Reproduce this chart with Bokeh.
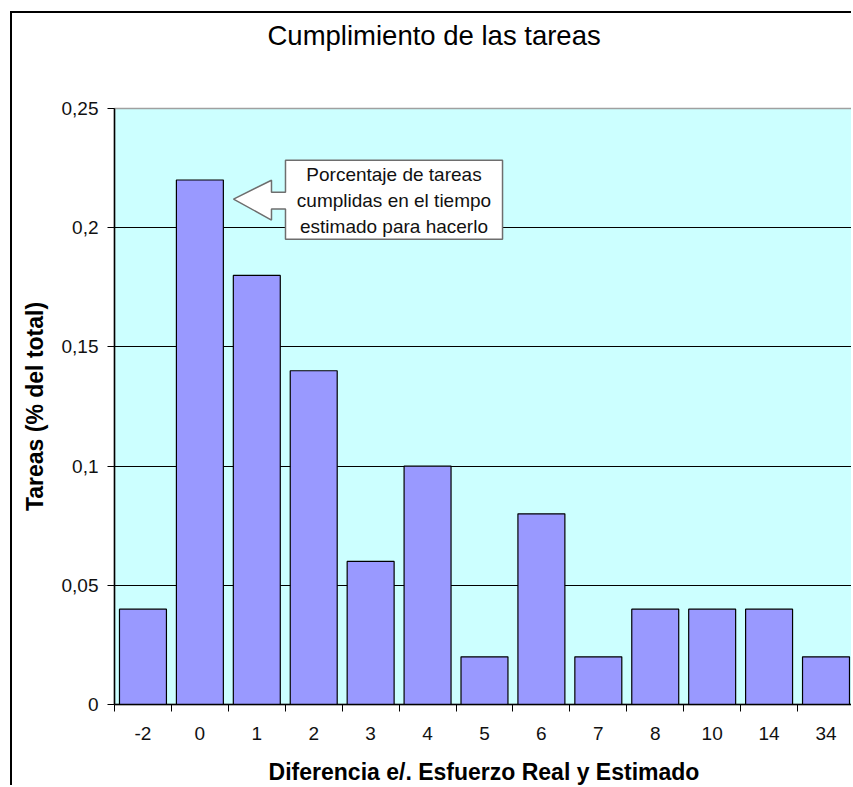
from bokeh.plotting import figure
from bokeh.models import Range1d, FixedTicker, Title
from bokeh.core.properties import value
from bokeh.embed import file_html
from bokeh.resources import INLINE

# ---- data ----
CATEGORIES = ["-2", "0", "1", "2", "3", "4", "5", "6", "7", "8", "10", "14", "34"]
SHARE = [0.04, 0.22, 0.18, 0.14, 0.06, 0.10, 0.02, 0.08, 0.02, 0.04, 0.04, 0.04, 0.02]
Y_TICKS = [0, 0.05, 0.1, 0.15, 0.2, 0.25]
Y_TICK_LABELS = ["0", "0,05", "0,1", "0,15", "0,2", "0,25"]
TITLE = "Cumplimiento de las tareas"
X_LABEL = "Diferencia e/. Esfuerzo Real y Estimado"
Y_LABEL = "Tareas (% del total)"
CALLOUT_TEXT = ["Porcentaje de tareas", "cumplidas en el tiempo", "estimado para hacerlo"]

FONT = "Liberation Sans"

pos = list(range(len(CATEGORIES)))

p = figure(width=841, height=774, output_backend="svg", toolbar_location=None,
           title=None,
           x_range=Range1d(-0.5, 12.483), y_range=Range1d(0, 0.25),
           min_border_left=102, min_border_top=95, min_border_bottom=81,
           min_border_right=0,
           background_fill_color="#CCFFFF", border_fill_color="#FFFFFF",
           outline_line_color="#A0A0A0", outline_line_width=1.5)

# chart-area border (top and left edges visible in the reference)
p.styles = {"border-left": "2px solid #000", "border-top": "2px solid #000",
            "margin-left": "10px", "margin-top": "11px"}

# title: an invisible spacer next to the frame pushes the title upward
spacer = Title(text=" ", text_font_size="10px", standoff=45)
p.add_layout(spacer, "above")
main_title = Title(text=TITLE, text_font=FONT, text_font_size="27.5px",
                   text_font_style="normal", text_color="#000000",
                   align="left", offset=153, standoff=0)
p.add_layout(main_title, "above")

# x axis: labels at category centers, tick marks at category boundaries
xa = p.xaxis[0]
xa.ticker = FixedTicker(ticks=pos, minor_ticks=[i - 0.5 for i in range(len(CATEGORIES) + 1)])
xa.major_label_overrides = {i: c for i, c in zip(pos, CATEGORIES)}
xa.major_tick_line_color = None
xa.major_tick_out = 7
xa.major_tick_in = 0
xa.minor_tick_line_color = "#000000"
xa.minor_tick_out = 7
xa.minor_tick_in = 0
xa.axis_line_color = "#000000"
xa.axis_line_width = 1.5
xa.major_label_standoff = 15
xa.major_label_text_font = FONT
xa.major_label_text_font_size = "19px"
xa.major_label_text_color = "#111111"
xa.axis_label = X_LABEL
xa.axis_label_text_font = FONT
xa.axis_label_text_font_size = "23px"
xa.axis_label_text_font_style = "bold"
xa.axis_label_text_color = "#000000"
xa.axis_label_standoff = 16

# y axis
ya = p.yaxis[0]
ya.ticker = FixedTicker(ticks=Y_TICKS, minor_ticks=[])
ya.major_label_overrides = {t: l for t, l in zip(Y_TICKS, Y_TICK_LABELS)}
ya.major_tick_line_color = "#000000"
ya.major_tick_out = 7
ya.major_tick_in = 0
ya.axis_line_color = "#000000"
ya.axis_line_width = 1.5
ya.major_label_standoff = 9
ya.major_label_text_font = FONT
ya.major_label_text_font_size = "19px"
ya.major_label_text_color = "#111111"
ya.axis_label = Y_LABEL
ya.axis_label_text_font = FONT
ya.axis_label_text_font_size = "23px"
ya.axis_label_text_font_style = "bold"
ya.axis_label_text_color = "#000000"
ya.axis_label_standoff = 11

# grid
p.xgrid.visible = False
p.ygrid.ticker = FixedTicker(ticks=Y_TICKS[1:-1], minor_ticks=[])
p.ygrid.grid_line_color = "#000000"
p.ygrid.grid_line_width = 1.2

# bars
p.vbar(x=pos, top=SHARE, bottom=0, width=0.825,
       fill_color="#9999FF", line_color="#000000", line_width=1.2)

# callout (annotation geometry, in data units)
cx = [1.591, 2.258, 2.258, 2.504, 2.504, 6.317, 6.317, 2.504, 2.504, 2.258, 2.258]
cy = [0.2120, 0.2199, 0.2149, 0.2149, 0.2283, 0.2283, 0.1952, 0.1952, 0.2078, 0.2078, 0.2032]
p.patch(cx, cy, fill_color="#FFFFFF", line_color="#6E6E6E", line_width=1.5)
p.text(x=[4.41] * 3, y=[0.2224, 0.2115, 0.2007], text=CALLOUT_TEXT,
       text_align="center", text_baseline="middle",
       text_font=value(FONT), text_font_size="19px", text_color="#111111")

open("out.html", "w").write(file_html(p, INLINE))
